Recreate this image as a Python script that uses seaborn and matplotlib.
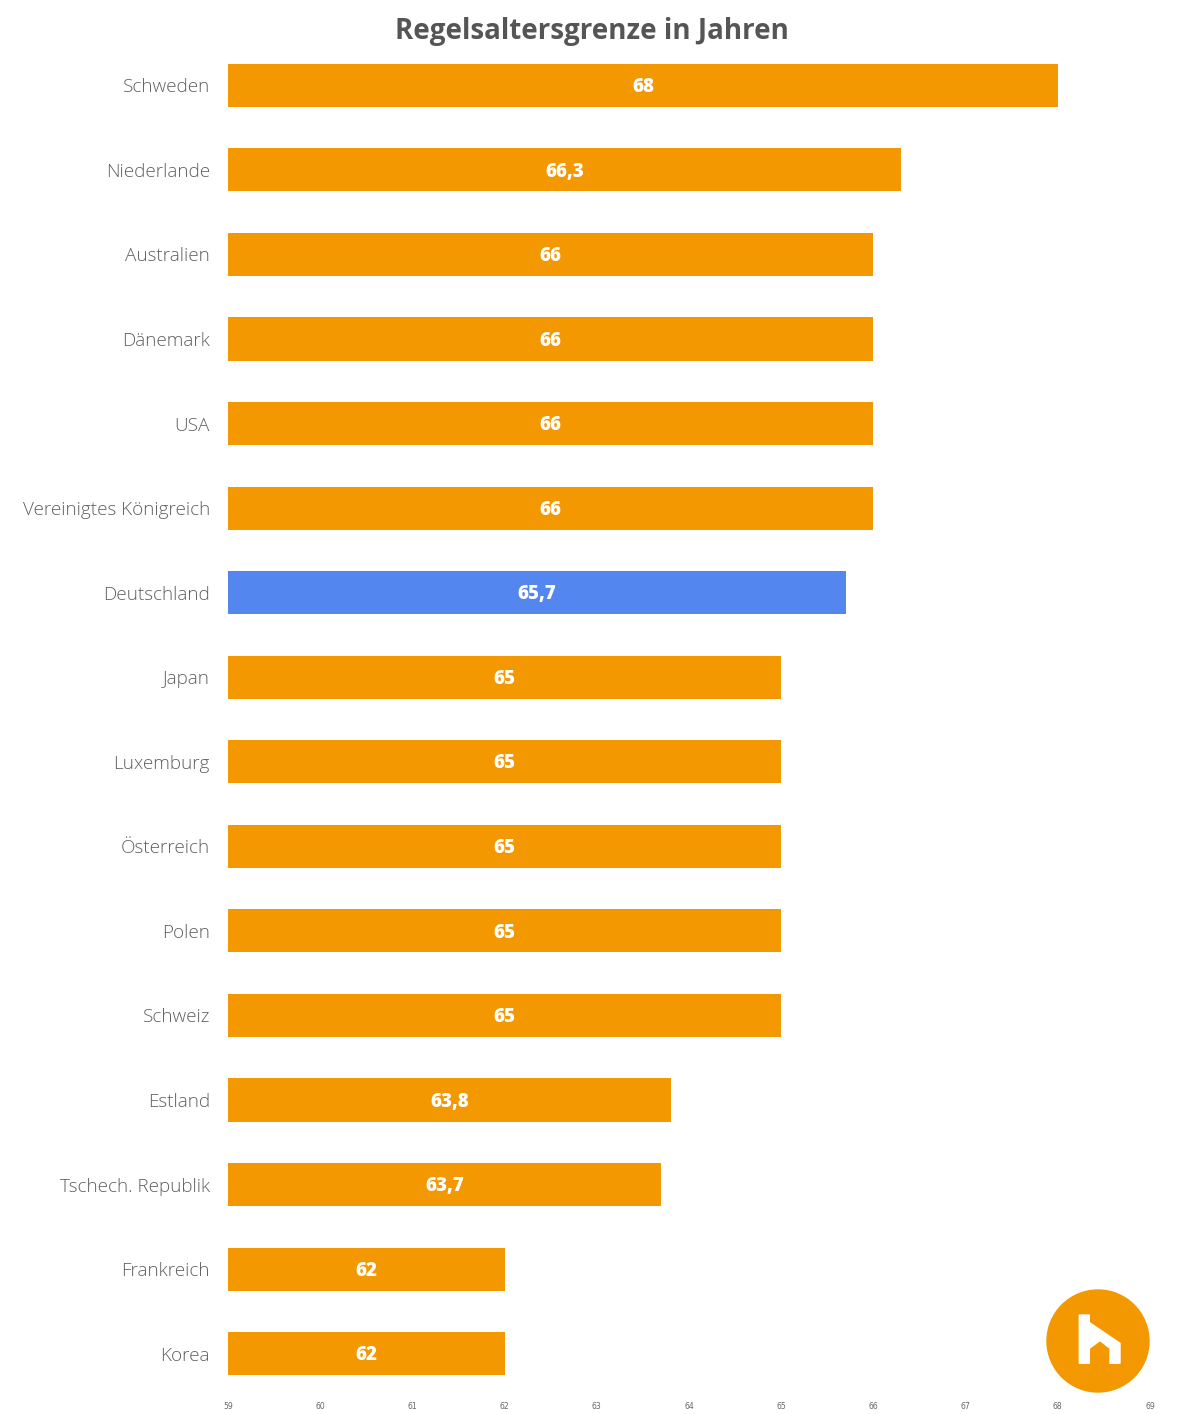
"""Regelaltersgrenze im internationalen Vergleich."""
import matplotlib.pyplot as plt
import seaborn as sns
from matplotlib.patches import Circle, Polygon

countries = [
    "Schweden", "Niederlande", "Australien", "Dänemark", "USA",
    "Vereinigtes Königreich", "Deutschland", "Japan", "Luxemburg",
    "Österreich", "Polen", "Schweiz", "Estland", "Tschech. Republik",
    "Frankreich", "Korea",
]
ages = [68, 66.3, 66, 66, 66, 66, 65.7, 65, 65, 65, 65, 65, 63.8, 63.7, 62, 62]
highlight = "Deutschland"
x_ticks = list(range(59, 70))

ORANGE = "#F39800"
BLUE = "#5486F0"
BASE = 59  # bars start at the left edge of the axis


def fmt(v: float) -> str:
    return f"{v:g}".replace(".", ",")


def main() -> None:
    sns.set_theme(style="white")
    plt.rcParams["font.family"] = ["Open Sans", "DejaVu Sans"]

    fig = plt.figure(figsize=(11.84, 14.14), dpi=100)
    ax = fig.add_axes([228 / 1184, 18 / 1414, 922 / 1184, 1353 / 1414])

    colors = [BLUE if c == highlight else ORANGE for c in countries]
    sns.barplot(
        y=countries, x=[a - BASE for a in ages], hue=countries,
        palette=colors, orient="h", width=0.51, legend=False,
        saturation=1, ax=ax,
    )
    # shift bars so they run from BASE to the value
    for patch in ax.patches:
        patch.set_x(patch.get_x() + BASE)
        patch.set_linewidth(0)

    ax.set_xlim(59, 69)
    ax.set_ylim(15.5, -0.5)
    ax.set_xticks(x_ticks)
    ax.set_xticklabels([str(t) for t in x_ticks], fontsize=5.5,
                       color="#666666", family=["DejaVu Sans"])
    ax.tick_params(axis="x", length=0, pad=4)
    ax.tick_params(axis="y", length=0, pad=13)
    for lbl in ax.get_yticklabels():
        lbl.set_fontsize(13.6)
        lbl.set_color("#606060")
        lbl.set_fontweight("light")
    ax.set_xlabel("")
    ax.set_ylabel("")
    for spine in ax.spines.values():
        spine.set_visible(False)

    for i, v in enumerate(ages):
        ax.text((BASE + v) / 2, i + 0.02, fmt(v), ha="center", va="center",
                color="white", fontsize=13.5, fontweight="heavy")

    fig.text(592 / 1184, 1 - 31 / 1414, "Regelsaltersgrenze in Jahren",
             ha="center", va="center", fontsize=20, fontweight="bold",
             color="#555555")

    # logo in pixel coordinates
    logo = fig.add_axes([0, 0, 1, 1], zorder=5)
    logo.set_xlim(0, 1184)
    logo.set_ylim(1414, 0)
    logo.axis("off")
    logo.add_patch(Circle((1098, 1341), 51, color=ORANGE))
    h_shape = [
        (1079.3, 1315), (1089.3, 1315), (1089.3, 1322.5), (1120, 1343.3),
        (1120, 1363.3), (1110, 1363.3), (1110, 1348.3), (1100, 1340.5),
        (1089.3, 1348.3), (1089.3, 1363.3), (1079.3, 1363.3),
    ]
    logo.add_patch(Polygon(h_shape, closed=True, color="white"))

    fig.savefig("out.png", dpi=100)
    plt.close(fig)


if __name__ == "__main__":
    main()
